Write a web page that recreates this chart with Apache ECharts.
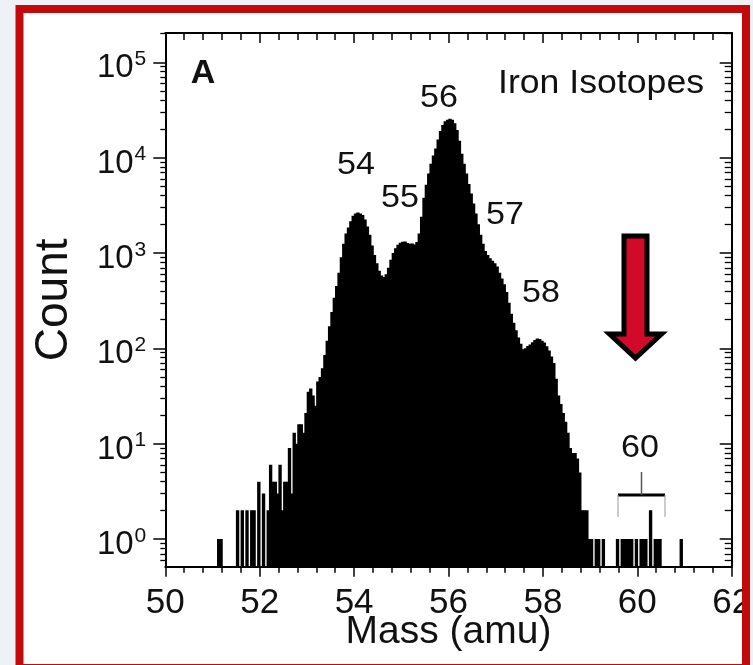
<!DOCTYPE html>
<html>
<head>
<meta charset="utf-8">
<script src="https://cdn.jsdelivr.net/npm/echarts@6/dist/echarts.min.js"></script>
<style>
html,body{margin:0;padding:0;background:#eef2f7;}
#chart{width:753px;height:665px;}
</style>
</head>
<body>
<div id="chart"></div>
<script>
// ---- data ----
const binWidth = 0.05;            // amu per histogram bin
const denseStart = 52.30;         // left edge of first bin of the continuous block
const denseCounts = [
  4,3,6,2,4,4,9,3,13,10,16,16,13,21,35,38,32,25,45,50,
  62,85,120,170,240,340,450,620,900,1250,1600,1850,2150,2450,2600,2650,2600,2500,2250,1900,
  1550,1200,950,780,650,580,560,600,700,850,1000,1120,1220,1280,1310,1320,1270,1250,1260,1230,
  1300,1600,2400,3800,5200,6800,8600,10500,12500,15500,19000,22000,24000,25000,25500,25000,23000,19500,15000,11000,
  8600,6800,5300,4200,3300,2600,2000,1550,1250,1050,950,880,830,780,720,620,540,470,390,300,
  230,185,155,130,112,98,100,106,110,116,122,127,125,120,115,105,95,82,70,48,
  32,26,21,17,13,9,8,8,7,5,2,2,2,1,1
];
const sparseMass = [51.10,51.15,51.50,51.60,51.70,51.80,51.85,51.95,52.05,52.15,52.20,52.25,
  59.10,59.15,59.25,59.55,59.65,59.70,59.75,59.80,59.85,59.95,60.05,60.10,60.15,60.25,60.35,60.40,60.45,60.90];
const sparseCounts = [1,1,2,2,2,2,2,4,3,2,6,4,
  1,1,1,1,1,1,1,1,1,1,1,1,1,2,1,1,1,1];

const xTickLabels = [50,52,54,56,58,60,62];
const yLabelValues = [1,10,100,1000,10000,100000];
const peakLabels = ['54','55','56','57','58','60'];
const yMin = Math.pow(10,-0.29), yMax = Math.pow(10,5.307);

// minor tick positions on the log axis (2..9 x 10^n)
const yMinorValues = [];
for (let d = -1; d <= 5; d++) for (let k = 2; k <= 9; k++) {
  const v = k * Math.pow(10, d);
  if (v > yMin && v < yMax) yMinorValues.push(v);
}

const histData = [];
denseCounts.forEach((c, i) => histData.push([+(denseStart + i*binWidth).toFixed(2), c]));
sparseMass.forEach((m, i) => histData.push([m, sparseCounts[i]]));

const chart = echarts.init(document.getElementById('chart'), null, {renderer:'canvas', width:753, height:665});
const FONT = '"Liberation Sans", Arial, sans-serif';
const axisLineStyle = {show:true, onZero:false, lineStyle:{color:'#000', width:2}};

function yLabelFmt(v){
  const l = Math.log10(v), n = Math.round(l);
  if (Math.abs(l-n) > 1e-6) return '';
  return '{b|10}{s|' + n + '}';
}

function label(text, x, y, size, sx, bold){
  return {type:'text', z:50, x:x, y:y, scaleX:sx, silent:true,
    style:{text:text, font:(bold ? 'bold ' : '') + size + 'px ' + FONT, fill:'#111', align:'center', verticalAlign:'middle'}};
}

const option = {
  backgroundColor: 'transparent',
  animation: false,
  grid: {left:165.3, right:21.3, top:33, bottom:98.3, containLabel:false, outerBoundsMode:'none'},
  xAxis: [
    {type:'value', position:'bottom', min:50, max:62, interval:2,
     axisLine:axisLineStyle,
     axisTick:{show:true, inside:false, length:10, lineStyle:{color:'#000', width:1.5}},
     minorTick:{show:true, splitNumber:5, length:6, lineStyle:{color:'#000', width:1.5}},
     splitLine:{show:false},
     axisLabel:{show:true, margin:19, fontSize:35, fontFamily:FONT, color:'#111',
       formatter: v => xTickLabels.indexOf(v) >= 0 ? String(v) : ''},
     name:'Mass (amu)', nameLocation:'middle', nameGap:46, nameMoveOverlap:false,
     nameTextStyle:{fontSize:39, fontFamily:FONT, color:'#111'}},
    {type:'value', position:'top', min:50, max:62, interval:2,
     axisLine:axisLineStyle,
     axisTick:{show:true, inside:true, length:10, lineStyle:{color:'#000', width:1.5}},
     minorTick:{show:true, splitNumber:5, length:7, lineStyle:{color:'#000', width:1.5}},
     splitLine:{show:false}, axisLabel:{show:false}}
  ],
  yAxis: [
    {type:'log', logBase:10, position:'left', min:yMin, max:yMax,
     axisLine:axisLineStyle,
     axisTick:{show:true, inside:false, length:12, customValues:yLabelValues, lineStyle:{color:'#000', width:1.5}},
     splitLine:{show:false},
     axisLabel:{show:true, margin:19, customValues:yLabelValues, formatter:yLabelFmt,
       fontFamily:FONT, color:'#111',
       rich:{
         b:{fontSize:33, fontFamily:FONT, color:'#111', lineHeight:33, padding:[12,0,0,0]},
         s:{fontSize:21, fontFamily:FONT, color:'#111', lineHeight:21, verticalAlign:'top', padding:[3,0,0,1]}
       }},
     name:'Count', nameLocation:'middle', nameGap:88, nameRotate:90, nameMoveOverlap:false,
     nameTextStyle:{fontSize:46, fontFamily:FONT, color:'#111'}},
    {type:'log', logBase:10, position:'left', min:yMin, max:yMax,
     axisLine:{show:false, onZero:false},
     axisTick:{show:true, inside:false, length:5, customValues:yMinorValues, lineStyle:{color:'#000', width:1.3}},
     splitLine:{show:false}, axisLabel:{show:false}},
    {type:'log', logBase:10, position:'right', min:yMin, max:yMax,
     axisLine:axisLineStyle,
     axisTick:{show:true, inside:true, length:12, customValues:yLabelValues, lineStyle:{color:'#000', width:1.5}},
     splitLine:{show:false}, axisLabel:{show:false}},
    {type:'log', logBase:10, position:'right', min:yMin, max:yMax,
     axisLine:{show:false, onZero:false},
     axisTick:{show:true, inside:true, length:7, customValues:yMinorValues, lineStyle:{color:'#000', width:1.3}},
     splitLine:{show:false}, axisLabel:{show:false}}
  ],
  series: [{
    type:'custom', xAxisIndex:0, yAxisIndex:0, clip:true,
    data: histData,
    encode:{x:0, y:1},
    renderItem: function(params, api){
      const x0 = api.value(0), c = api.value(1);
      const pTop = api.coord([x0, c]);
      const pBot = api.coord([x0 + binWidth, yMin]);
      return {type:'rect',
        shape:{x:pTop[0] - 0.2, y:pTop[1], width:(pBot[0]-pTop[0]) + 1.0, height:pBot[1]-pTop[1]},
        style:{fill:'#000'}};
    }
  }],
  graphic: [
    {type:'rect', z:-10, silent:true, shape:{x:19.5, y:8, width:726.5, height:660}, style:{fill:'#fff'}},
    {type:'rect', z:100, silent:true, shape:{x:19.5, y:9, width:726.5, height:659},
      style:{fill:'none', stroke:'#c20a0a', lineWidth:8}},
    label('A', 203, 74, 34, 1, true),
    label('Iron Isotopes', 601, 84, 33, 1.08),
    label(peakLabels[2], 439, 98, 31, 1.1),
    label(peakLabels[0], 356, 165, 31, 1.1),
    label(peakLabels[1], 400, 198, 31, 1.1),
    label(peakLabels[3], 505, 215, 31, 1.1),
    label(peakLabels[4], 541, 293, 31, 1.1),
    label(peakLabels[5], 640, 448, 31, 1.1),
    {type:'line', z:50, shape:{x1:618, y1:495, x2:665, y2:495}, style:{stroke:'#000', lineWidth:3}},
    {type:'line', z:50, shape:{x1:641.5, y1:472, x2:641.5, y2:495}, style:{stroke:'#555', lineWidth:1.5}},
    {type:'line', z:50, shape:{x1:618, y1:495, x2:618, y2:517}, style:{stroke:'#999', lineWidth:1}},
    {type:'line', z:50, shape:{x1:665, y1:495, x2:665, y2:517}, style:{stroke:'#999', lineWidth:1}},
    {type:'polygon', z:60, shape:{points:[[624,236],[647,236],[647,334],[661.5,334],[635.5,358],[609.5,334],[624,334]]},
      style:{fill:'#d3092a', stroke:'#000', lineWidth:5, lineJoin:'miter', miterLimit:10}}
  ]
};
chart.setOption(option);
</script>
</body>
</html>
